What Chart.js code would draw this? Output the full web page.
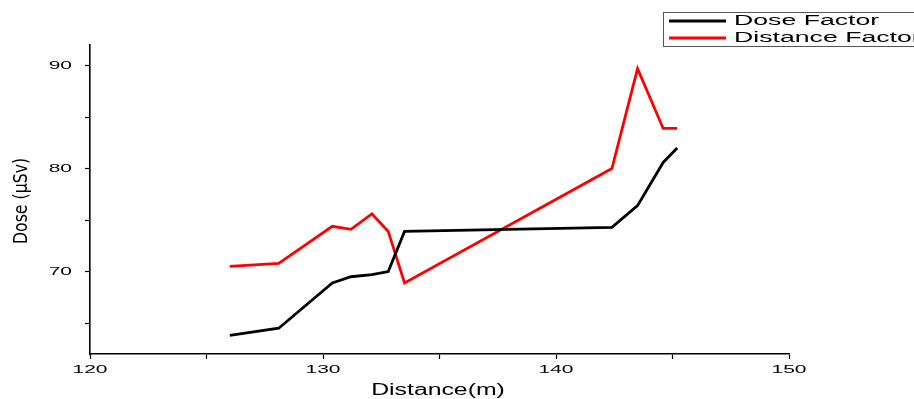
<!DOCTYPE html>
<html>
<head>
<meta charset="utf-8">
<script src="https://cdn.jsdelivr.net/npm/chart.js@4"></script>
<style>
  html, body { margin: 0; padding: 0; background: #fff; }
  #wrap { width: 914px; height: 399px; position: relative; }
</style>
</head>
<body>
<div id="wrap"><canvas id="doseChart"></canvas></div>
<script>
// ===== DATA =====
const distances    = [126.0, 128.1, 130.4, 131.2, 132.1, 132.8, 133.5, 142.4, 143.5, 144.6, 145.2];
const doseFactor   = [63.8, 64.5, 68.9, 69.5, 69.7, 70.0, 73.9, 74.3, 76.4, 80.6, 82.0];
const distFactor   = [70.5, 70.8, 74.4, 74.1, 75.6, 73.9, 68.9, 80.0, 89.7, 83.9, 83.9];
const xTicks = [120, 125, 130, 135, 140, 145, 150];
const yTicks = [65, 70, 75, 80, 85, 90];
const xTitle = "Distance(m)";
const yTitle = "Dose (μSv)";

const toPoints = (xs, ys) => xs.map((x, i) => ({ x, y: ys[i] }));

// the original's text is stretched sideways, so draw it with a scale transform
function wideText(ctx, text, x, y, sx, font, align) {
  ctx.save();
  ctx.font = font;
  ctx.textAlign = align;
  ctx.textBaseline = "middle";
  ctx.translate(x, y);
  ctx.scale(sx, 1);
  ctx.fillText(text, 0, 0);
  ctx.restore();
}

// ===== TEXT + LEGEND BOX =====
const textLayer = {
  id: "textLayer",
  afterDraw(chart) {
    const ctx = chart.ctx;
    const xs = chart.scales.x, ys = chart.scales.y;
    ctx.save();
    ctx.fillStyle = "#000";
    const tf = "10.5px 'Liberation Sans', Arial, sans-serif";

    xs.ticks.forEach(t => {
      if (t.value % 10 === 0) wideText(ctx, String(t.value), xs.getPixelForValue(t.value), 370, 2.0, tf, "center");
    });
    ys.ticks.forEach(t => {
      if (t.value % 10 === 0) wideText(ctx, String(t.value), 72, ys.getPixelForValue(t.value) + 0.5, 2.0, tf, "right");
    });

    // axis titles
    wideText(ctx, xTitle, 438, 391, 1.55, "16px 'Liberation Sans', Arial, sans-serif", "center");
    ctx.save();
    ctx.translate(22, 201);
    ctx.rotate(-Math.PI / 2);
    wideText(ctx, yTitle, 0, 0, 0.92, "19px 'DejaVu Sans Condensed', sans-serif", "center");
    ctx.restore();

    // legend
    ctx.strokeStyle = "#555";
    ctx.lineWidth = 1;
    ctx.strokeRect(663.5, 12.5, 260, 34);
    chart.data.datasets.forEach((ds, i) => {
      const y = 21 + i * 17;
      ctx.strokeStyle = ds.borderColor;
      ctx.lineWidth = 3;
      ctx.beginPath();
      ctx.moveTo(669, y);
      ctx.lineTo(726, y);
      ctx.stroke();
      wideText(ctx, ds.label, 734, y, 1.72, "15.5px 'Liberation Sans', Arial, sans-serif", "left");
    });
    ctx.restore();
  }
};

new Chart(document.getElementById("doseChart"), {
  type: "line",
  data: {
    datasets: [
      { label: "Dose Factor", data: toPoints(distances, doseFactor), borderColor: "#000", borderWidth: 2.8, pointRadius: 0, tension: 0 },
      { label: "Distance Factor", data: toPoints(distances, distFactor), borderColor: "#ff0000", borderWidth: 2.8, pointRadius: 0, tension: 0 }
    ]
  },
  options: {
    responsive: true,
    maintainAspectRatio: false,
    animation: false,
    layout: { padding: { top: 45, right: 125, left: 0, bottom: 0 } },
    plugins: { legend: { display: false }, tooltip: { enabled: false } },
    scales: {
      x: {
        type: "linear",
        min: 120, max: 150,
        afterBuildTicks: s => { s.ticks = xTicks.map(v => ({ value: v })); },
        afterFit: s => { s.height = 45; },
        ticks: { display: false },
        grid: { drawOnChartArea: false, drawTicks: true, tickLength: 5, color: "#000", tickWidth: 1.2 },
        border: { display: true, color: "#000", width: 1.6 }
      },
      y: {
        min: 62, max: 92,
        afterBuildTicks: s => { s.ticks = yTicks.map(v => ({ value: v })); },
        afterFit: s => { s.width = 90; },
        ticks: { display: false },
        grid: { drawOnChartArea: false, drawTicks: true, tickLength: 5, color: "#000", tickWidth: 1.2 },
        border: { display: true, color: "#000", width: 1.6 }
      }
    }
  },
  plugins: [textLayer]
});
</script>
</body>
</html>
